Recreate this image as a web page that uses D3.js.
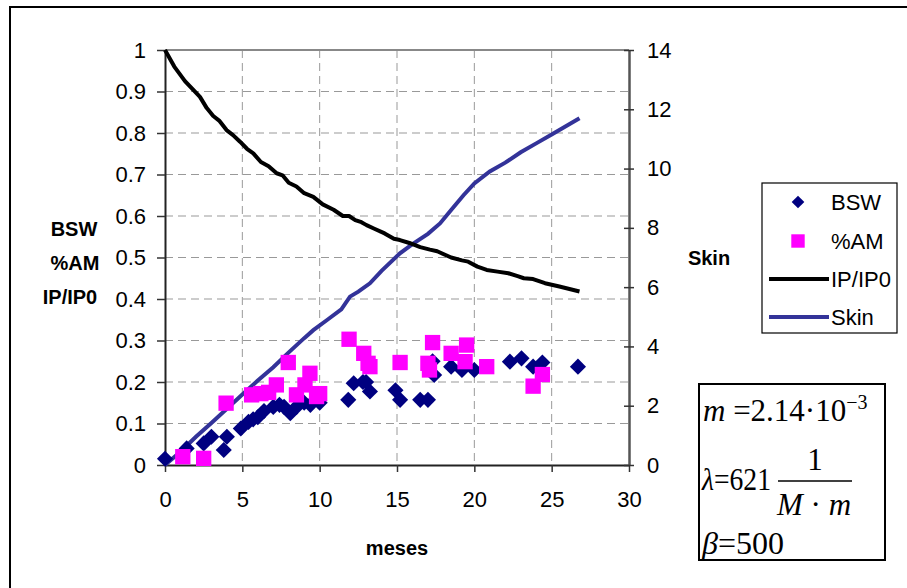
<!DOCTYPE html>
<html>
<head>
<meta charset="utf-8">
<script src="https://cdn.jsdelivr.net/npm/d3@7"></script>
<style>
  body { margin: 0; background: #fff; }
  text { font-family: Arial, "Liberation Sans", sans-serif; }
  .eq text { font-family: "Times New Roman", "Liberation Serif", serif; }
</style>
</head>
<body>
<svg id="chart" width="907" height="588"></svg>
<script>
// months, value pairs
var bsw = [[0,0.015],[1.4,0.04],[2.5,0.052],[3.0,0.068],[3.8,0.036],[4.0,0.068],[4.9,0.088],
  [5.4,0.104],[5.7,0.11],[6.0,0.115],[6.4,0.13],[7.0,0.14],[7.4,0.145],[7.7,0.14],[8.1,0.125],
  [8.5,0.14],[9.0,0.15],[9.4,0.145],[10.0,0.15],[11.85,0.157],[12.2,0.197],[12.8,0.2],[13.0,0.2],
  [13.25,0.177],[14.9,0.18],[15.2,0.157],[16.5,0.157],[17.0,0.157],[17.4,0.217],[17.3,0.25],
  [18.5,0.237],[19.2,0.229],[20.0,0.229],[22.3,0.249],[23.05,0.257],[23.8,0.237],[24.4,0.247],[26.7,0.237]];

var am = [[1.15,0.02],[2.5,0.016],[3.95,0.149],[5.6,0.169],[6.2,0.172],[6.7,0.175],[7.2,0.193],
  [7.97,0.247],[8.5,0.169],[9.05,0.193],[9.37,0.221],[9.8,0.165],[10.0,0.172],[11.9,0.303],
  [12.85,0.269],[13.13,0.245],[13.25,0.237],[15.2,0.247],[17.3,0.295],[17.0,0.245],[17.1,0.229],
  [18.5,0.269],[19.5,0.289],[19.4,0.249],[20.8,0.237],[24.4,0.218],[23.8,0.19]];

var ip = [[0,1],[0.6,0.96],[1.29,0.925],[1.8,0.905],[2.26,0.887],[2.7,0.86],[3.12,0.841],[3.5,0.83],
  [3.98,0.807],[4.4,0.795],[4.85,0.779],[5.3,0.762],[5.71,0.751],[6.2,0.73],[6.7,0.72],[7.22,0.703],
  [7.6,0.698],[8.0,0.68],[8.5,0.671],[9.0,0.655],[9.59,0.646],[10.2,0.628],[10.9,0.615],[11.5,0.6],
  [11.9,0.6],[12.3,0.59],[12.7,0.585],[13.03,0.578],[13.5,0.57],[14.2,0.558],[14.8,0.545],[15.19,0.542],
  [15.8,0.535],[16.5,0.525],[17.13,0.519],[17.6,0.515],[18.5,0.5],[19.2,0.493],[19.6,0.49],[20.2,0.478],
  [20.8,0.47],[21.5,0.466],[22.2,0.462],[22.8,0.455],[23.2,0.45],[23.8,0.448],[24.57,0.438],[25.5,0.43],[26.8,0.418]];

var skin = [[0,0],[1,0.45],[2,0.95],[3,1.42],[4,1.9],[5,2.38],[6,2.85],[7,3.3],[8,3.8],[9,4.28],
  [9.59,4.55],[10.5,4.9],[11.4,5.25],[11.96,5.68],[12.5,5.85],[13.25,6.13],[14,6.55],[15.19,7.14],
  [16,7.45],[17,7.8],[17.78,8.15],[18.5,8.6],[19.3,9.1],[20,9.5],[21,9.9],[22,10.2],[23,10.55],
  [24,10.85],[25,11.15],[26.8,11.7]];

var xTicks = [0,5,10,15,20,25,30];
var yTicks = [0,0.1,0.2,0.3,0.4,0.5,0.6,0.7,0.8,0.9,1];
var y2Ticks = [0,2,4,6,8,10,12,14];
var legendNames = ["BSW","%AM","IP/IP0","Skin"];

var svg = d3.select("#chart");

var x = d3.scaleLinear().domain([0,30]).range([165,629]);
var y = d3.scaleLinear().domain([0,1]).range([465,50]);
var y2 = d3.scaleLinear().domain([0,14]).range([465,50]);

// outer frame
svg.append("rect").attr("x",10).attr("y",7).attr("width",910).attr("height",600)
   .attr("fill","none").attr("stroke","#000").attr("stroke-width",2);

// grid
svg.append("g").selectAll("line").data(yTicks.slice(1,-1)).enter().append("line")
   .attr("x1",165).attr("x2",629).attr("y1",y).attr("y2",y)
   .attr("stroke","#999").attr("stroke-dasharray","8,5");
svg.append("g").selectAll("line").data(xTicks.slice(1,-1)).enter().append("line")
   .attr("y1",50).attr("y2",465).attr("x1",x).attr("x2",x)
   .attr("stroke","#999").attr("stroke-dasharray","8,5");
svg.append("line").attr("x1",165).attr("x2",629).attr("y1",50).attr("y2",50)
   .attr("stroke","#888").attr("stroke-width",2);

// axes
var gx = svg.append("g").attr("transform","translate(0,465)")
   .call(d3.axisBottom(x).tickValues(xTicks).tickSize(7).tickPadding(19).tickSizeOuter(0));
var gy = svg.append("g").attr("transform","translate(165,0)")
   .call(d3.axisLeft(y).tickValues(yTicks).tickFormat(d3.format("")).tickSize(8).tickPadding(11).tickSizeOuter(0));
var gy2 = svg.append("g").attr("transform","translate(629,0)")
   .call(d3.axisRight(y2).tickValues(y2Ticks).tickSize(5).tickPadding(13).tickSizeOuter(0));
gy2.selectAll(".tick line").attr("x1",-5);
[gx,gy,gy2].forEach(function(g){
  g.selectAll("text").style("font-size","22px").attr("fill","#000");
  g.selectAll("line").attr("stroke","#333").attr("stroke-width",1.5);
});
gx.select(".domain").attr("stroke","#222").attr("stroke-width",2);
gy.select(".domain").attr("stroke","#222").attr("stroke-width",2);
gy2.select(".domain").attr("stroke","#555").attr("stroke-width",2.5);
gx.selectAll("text").attr("dy","0.71em");

// axis titles
var lt = svg.append("g").attr("font-weight","bold").style("font-size","20px").attr("text-anchor","middle");
lt.append("text").attr("x",74).attr("y",229).attr("dy","0.35em").text("BSW");
lt.append("text").attr("x",75).attr("y",263).attr("dy","0.35em").text("%AM");
lt.append("text").attr("x",70).attr("y",297).attr("dy","0.35em").text("IP/IP0");
lt.append("text").attr("x",709).attr("y",258).attr("dy","0.35em").text("Skin");
lt.append("text").attr("x",397).attr("y",548).attr("dy","0.35em").text("meses");

// lines
var line = d3.line().x(function(d){ return x(d[0]); });
svg.append("path").datum(skin)
   .attr("d", line.y(function(d){ return y2(d[1]); }))
   .attr("fill","none").attr("stroke","#333399").attr("stroke-width",4);
svg.append("path").datum(ip)
   .attr("d", line.y(function(d){ return y(d[1]); }))
   .attr("fill","none").attr("stroke","#000").attr("stroke-width",4).attr("stroke-linejoin","round");

// markers
var diamond = d3.symbol().type(d3.symbolSquare).size(130);
var square = d3.symbol().type(d3.symbolSquare).size(235);
svg.append("g").selectAll("path").data(bsw).enter().append("path")
   .attr("d", diamond)
   .attr("transform", function(d){ return "translate(" + x(d[0]) + "," + y(d[1]) + ") rotate(45)"; })
   .attr("fill","#000080");
svg.append("g").selectAll("path").data(am).enter().append("path")
   .attr("d", square)
   .attr("transform", function(d){ return "translate(" + x(d[0]) + "," + y(d[1]) + ")"; })
   .attr("fill","#ff00ff");

// legend
var lg = svg.append("g");
lg.append("rect").attr("x",762).attr("y",183).attr("width",135).attr("height",150)
  .attr("fill","#fff").attr("stroke","#000").attr("stroke-width",1.2);
var ly = [202,241,279,317];
lg.append("path").attr("d", d3.symbol().type(d3.symbolSquare).size(80))
  .attr("transform","translate(798," + ly[0] + ") rotate(45)").attr("fill","#000080");
lg.append("path").attr("d", d3.symbol().type(d3.symbolSquare).size(180))
  .attr("transform","translate(798," + ly[1] + ")").attr("fill","#ff00ff");
lg.append("line").attr("x1",769).attr("x2",829).attr("y1",ly[2]).attr("y2",ly[2])
  .attr("stroke","#000").attr("stroke-width",4);
lg.append("line").attr("x1",769).attr("x2",829).attr("y1",ly[3]).attr("y2",ly[3])
  .attr("stroke","#333399").attr("stroke-width",4);
lg.selectAll("text.lab").data(legendNames).enter().append("text")
  .attr("x",831).attr("y",function(d,i){ return ly[i]; }).attr("dy","0.35em")
  .style("font-size","22px").text(function(d){ return d; });

// equation box
var eq = svg.append("g").attr("class","eq");
eq.append("rect").attr("x",699).attr("y",384).attr("width",186).attr("height",176)
  .attr("fill","#fff").attr("stroke","#000").attr("stroke-width",2);
var t1 = eq.append("text").attr("x",703).attr("y",421).style("font-size","31px");
t1.append("tspan").attr("font-style","italic").text("m");
t1.append("tspan").text(" =2.14·10");
t1.append("tspan").attr("dy",-12).style("font-size","20px").text("−3");
var t2 = eq.append("text").attr("x",702).attr("y",490).style("font-size","31px")
  .attr("textLength",69).attr("lengthAdjust","spacingAndGlyphs");
t2.append("tspan").attr("font-style","italic").text("λ");
t2.append("tspan").text("=621");
eq.append("text").attr("x",815).attr("y",470).attr("text-anchor","middle").style("font-size","31px").text("1");
eq.append("line").attr("x1",778).attr("x2",852).attr("y1",481).attr("y2",481).attr("stroke","#000").attr("stroke-width",1.5);
var t3 = eq.append("text").attr("x",814).attr("y",515).attr("text-anchor","middle").style("font-size","31px");
t3.append("tspan").attr("font-style","italic").text("M");
t3.append("tspan").text(" · ");
t3.append("tspan").attr("font-style","italic").text("m");
var t4 = eq.append("text").attr("x",702).attr("y",554).style("font-size","32px");
t4.append("tspan").attr("font-style","italic").text("β");
t4.append("tspan").text("=500");
</script>
</body>
</html>
